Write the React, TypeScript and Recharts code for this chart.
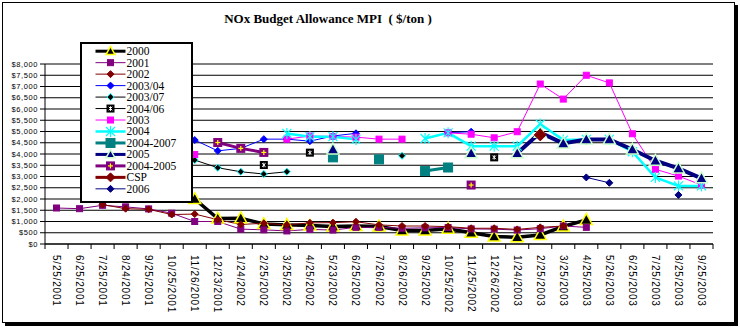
import React from 'react';
import { LineChart, Line, XAxis, YAxis, CartesianGrid } from 'recharts';

const _ = null;

const categories = [
  '5/25/2001', '6/25/2001', '7/25/2001', '8/24/2001', '9/25/2001', '10/25/2001', '11/26/2001',
  '12/23/2001', '1/24/2002', '2/25/2002', '3/25/2002', '4/25/2002', '5/23/2002', '6/25/2002',
  '7/26/2002', '8/26/2002', '9/25/2002', '10/25/2002', '11/25/2002', '12/26/2002', '1/24/2003',
  '2/25/2003', '3/25/2003', '4/25/2003', '5/26/2003', '6/25/2003', '7/25/2003', '8/25/2003', '9/25/2003',
];

const yTicks = [0, 500, 1000, 1500, 2000, 2500, 3000, 3500, 4000, 4500, 5000, 5500, 6000, 6500, 7000, 7500, 8000];

// one value per category, null = no trade that month
const s2000 = [_, _, _, _, _, _, 2000, 1130, 1140, 890, 850, 820, 780, 800, 780, 600, 600, 680, 500, 330, 300, 400, 780, 1070, _, _, _, _, _];
const s2001 = [1600, 1570, 1720, 1650, 1560, 1370, 1000, 1000, 660, 630, 580, 650, 620, 740, 740, 700, 720, 730, 670, 660, 620, 680, 800, 740, _, _, _, _, _];
const s2002 = [_, _, 1750, 1570, 1540, 1310, 1330, 1080, 870, 920, 850, 940, 950, 990, 850, 800, 800, 770, 700, 700, 650, 740, 800, _, _, _, _, _, _];
const s200304 = [_, _, _, _, _, _, 4620, 4140, 4250, 4660, 4660, 4570, 4800, 4920, _, _, _, 4950, 4990, _, _, _, _, _, _, _, _, _, _];
const s200307 = [_, _, _, _, _, _, 3730, 3390, 3210, 3110, 3210, _, _, _, _, 3920, _, _, _, _, _, _, _, _, _, _, _, _, _];
const s200406 = [_, _, _, _, _, _, _, _, _, 3510, _, 4060, _, _, _, _, _, _, _, 3850, _, _, _, _, _, _, _, _, _];
const s2003 = [_, _, _, _, _, _, 3980, _, _, _, 4660, 4800, 4780, 4750, 4660, 4660, _, 4940, 4880, 4720, 4990, 7110, 6440, 7500, 7160, 4900, 3320, 3020, 2620];
const s2004 = [_, _, _, _, _, _, _, _, _, _, 4915, 4770, 4770, 4650, _, _, 4690, 4940, 4350, 4350, 4350, 5330, 4620, 4650, 4650, 4100, 2960, 2580, 2580];
const s20042007 = [_, _, _, _, _, _, _, _, _, _, _, _, 3850, _, 3760, _, 3240, 3400, _, _, _, _, _, _, _, _, _, _, _];
const s2005 = [_, _, _, _, _, _, _, _, _, _, _, _, 4200, _, _, _, _, _, 4030, _, 4030, 4950, 4470, 4650, 4650, 4200, 3700, 3360, 2920];
const s20042005 = [_, _, _, _, _, _, _, 4510, 4250, 4070, _, _, _, _, _, _, _, _, 2620, _, _, _, _, _, _, _, _, _, _];
const sCSP = [_, _, _, _, _, _, _, _, _, _, _, _, _, _, _, _, _, _, _, _, _, 4850, _, _, _, _, _, _, _];
const s2006 = [_, _, _, _, _, _, _, _, _, _, _, _, _, _, _, _, _, _, _, _, _, _, _, 2960, 2720, _, _, 2180, _];

const series = [
  { key: 's2000', name: '2000', values: s2000, color: '#000000', width: 3.5, legendWidth: 3, kind: 'triangle', size: 12, fill: '#000000', edge: '#FFFF00' },
  { key: 's2001', name: '2001', values: s2001, color: '#800080', width: 1, legendWidth: 1, kind: 'square', size: 6, fill: '#800080', edge: '#800080' },
  { key: 's2002', name: '2002', values: s2002, color: '#800000', width: 1, legendWidth: 1, kind: 'diamond', size: 7, fill: '#800000', edge: '#800000' },
  { key: 's200304', name: '2003/04', values: s200304, color: '#0000FF', width: 1, legendWidth: 1, kind: 'diamond', size: 7, fill: '#0000FF', edge: '#0000FF' },
  { key: 's200307', name: '2003/07', values: s200307, color: '#000000', width: 1, legendWidth: 1, kind: 'diamond', size: 7, fill: '#000000', edge: '#00FFFF' },
  { key: 's200406', name: '2004/06', values: s200406, color: '#000000', width: 1, legendWidth: 1, kind: 'boxStar', size: 8, fill: '#000000', edge: '#FFFFFF' },
  { key: 's2003', name: '2003', values: s2003, color: '#FF00FF', width: 1, legendWidth: 1, kind: 'square', size: 6, fill: '#FF00FF', edge: '#FF00FF' },
  { key: 's2004', name: '2004', values: s2004, color: '#00FFFF', width: 2.5, legendWidth: 2.5, kind: 'asterisk', size: 9, fill: '#00FFFF', edge: '#00FFFF' },
  { key: 's20042007', name: '2004-2007', values: s20042007, color: '#008080', width: 3, legendWidth: 3, kind: 'square', size: 9, fill: '#008080', edge: '#008080' },
  { key: 's2005', name: '2005', values: s2005, color: '#000080', width: 4, legendWidth: 3, kind: 'triangle', size: 12, fill: '#000080', edge: '#CCFFCC' },
  { key: 's20042005', name: '2004-2005', values: s20042005, color: '#800080', width: 3, legendWidth: 3, kind: 'plusSquare', size: 9, fill: '#800080', edge: '#FFFF00' },
  { key: 'sCSP', name: 'CSP', values: sCSP, color: '#800000', width: 3, legendWidth: 3, kind: 'diamond', size: 12, fill: '#800000', edge: '#800000' },
  { key: 's2006', name: '2006', values: s2006, color: '#000080', width: 1, legendWidth: 1, kind: 'diamond', size: 7, fill: '#000080', edge: '#000080' },
];

const data = categories.map((date, i) => {
  const row: any = { date };
  series.forEach((s) => { row[s.key] = s.values[i]; });
  return row;
});

const W = 740;
const H = 331;
const PLOT_LEFT = 45;
const PLOT_RIGHT = 713;
const PLOT_TOP = 64;
const PLOT_BOTTOM = 244;
const YAXIS_W = 40;
const XAXIS_H = 60;
const STEP = (PLOT_RIGHT - PLOT_LEFT) / categories.length;

function Marker({ cx, cy, kind, size, fill, edge }: any) {
  const h = size / 2;
  if (kind === 'triangle') {
    return <polygon points={`${cx},${cy - h * 1.05} ${cx - h},${cy + h * 0.75} ${cx + h},${cy + h * 0.75}`} fill={fill} stroke={edge} strokeWidth={1.5} />;
  }
  if (kind === 'square') {
    return <rect x={cx - h} y={cy - h} width={size} height={size} fill={fill} stroke={edge} />;
  }
  if (kind === 'diamond') {
    return <polygon points={`${cx},${cy - h} ${cx + h},${cy} ${cx},${cy + h} ${cx - h},${cy}`} fill={fill} stroke={edge} strokeWidth={1} />;
  }
  if (kind === 'asterisk') {
    return (
      <g stroke={fill} strokeWidth={1.2}>
        <line x1={cx - h} y1={cy - h} x2={cx + h} y2={cy + h} />
        <line x1={cx - h} y1={cy + h} x2={cx + h} y2={cy - h} />
        <line x1={cx} y1={cy - h - 1} x2={cx} y2={cy + h + 1} />
      </g>
    );
  }
  if (kind === 'boxStar') {
    const s = h * 0.45;
    return (
      <g>
        <rect x={cx - h} y={cy - h} width={size} height={size} fill={fill} />
        <g stroke={edge} strokeWidth={1}>
          <line x1={cx - s} y1={cy - s} x2={cx + s} y2={cy + s} />
          <line x1={cx - s} y1={cy + s} x2={cx + s} y2={cy - s} />
          <line x1={cx} y1={cy - s - 0.5} x2={cx} y2={cy + s + 0.5} />
        </g>
      </g>
    );
  }
  if (kind === 'plusSquare') {
    const s = h * 0.55;
    return (
      <g>
        <rect x={cx - h} y={cy - h} width={size} height={size} fill={fill} />
        <g stroke={edge} strokeWidth={1.2}>
          <line x1={cx - s} y1={cy} x2={cx + s} y2={cy} />
          <line x1={cx} y1={cy - s} x2={cx} y2={cy + s} />
        </g>
      </g>
    );
  }
  return null;
}

const makeDot = (s: any) => (props: any) => {
  const { cx, cy, index, value } = props;
  if (cx == null || cy == null || value == null) return <g key={`${s.key}-${index}`} />;
  return (
    <g key={`${s.key}-${index}`}>
      <Marker cx={cx} cy={cy} kind={s.kind} size={s.size} fill={s.fill} edge={s.edge} />
    </g>
  );
};

const fmtMoney = (v: number) => {
  if (v < 1000) return `$${v}`;
  const th = Math.floor(v / 1000);
  const rest = String(v % 1000).padStart(3, '0');
  return `$${th},${rest}`;
};

function DateTick(props: any) {
  const { x, y, payload, index } = props;
  const left = x - STEP / 2;
  return (
    <g>
      <line x1={left} y1={PLOT_BOTTOM} x2={left} y2={PLOT_BOTTOM + 5} stroke="#000" />
      {index === categories.length - 1 && (
        <line x1={x + STEP / 2} y1={PLOT_BOTTOM} x2={x + STEP / 2} y2={PLOT_BOTTOM + 5} stroke="#000" />
      )}
      <text
        x={0}
        y={0}
        dy="0.35em"
        textAnchor="start"
        transform={`translate(${x},${y + 11}) rotate(90)`}
        fontSize={10}
        letterSpacing={0.8}
        fontFamily="'Liberation Sans', Arial, sans-serif"
        fill="#000"
      >
        {payload.value}
      </text>
    </g>
  );
}

function LegendBox() {
  const rowH = 11.47;
  return (
    <div
      style={{
        position: 'absolute', left: 80, top: 42, width: 113, height: 161,
        boxSizing: 'border-box', border: '2.5px solid #000', background: '#fff',
      }}
    >
      <svg width={108} height={156} style={{ display: 'block' }}>
        {series.map((s, i) => {
          const y = 7.2 + rowH * i;
          return (
            <g key={s.key}>
              <line x1={13.5} y1={y} x2={43.5} y2={y} stroke={s.color} strokeWidth={s.legendWidth} />
              <Marker cx={28.5} cy={y} kind={s.kind} size={Math.min(s.size, 9)} fill={s.fill} edge={s.edge} />
              <text x={44.5} y={y + 4} fontSize={11.5} fontFamily="'Liberation Serif', 'Times New Roman', serif" fill="#000">
                {s.name}
              </text>
            </g>
          );
        })}
      </svg>
    </div>
  );
}

export default function App() {
  return (
    <div style={{ position: 'relative', width: W, height: H, background: '#fff' }}>
      <style>{'body{margin:0}'}</style>
      <div
        style={{
          position: 'absolute', left: 2, top: 2, width: 731, height: 319,
          border: '1px solid #000', boxShadow: '3px 3px 0 #000', background: '#fff',
        }}
      />
      <div style={{ position: 'absolute', left: 0, top: 0 }}>
        <LineChart
          width={W}
          height={H}
          data={data}
          margin={{ top: PLOT_TOP, right: W - PLOT_RIGHT, bottom: H - PLOT_BOTTOM - XAXIS_H, left: PLOT_LEFT - YAXIS_W }}
        >
          <CartesianGrid yAxisId="left" horizontal vertical={false} stroke="#000" strokeWidth={1} />
          <XAxis
            dataKey="date"
            yAxisId="left"
            interval={0}
            height={XAXIS_H}
            padding={{ left: STEP / 2, right: STEP / 2 }}
            axisLine={{ stroke: '#000' }}
            tickLine={false}
            tickSize={0}
            tickMargin={0}
            tick={<DateTick />}
          />
          <YAxis
            yAxisId="left"
            domain={[0, 8000]}
            ticks={yTicks}
            interval={0}
            width={YAXIS_W}
            axisLine={{ stroke: '#000' }}
            tickLine={{ stroke: '#000' }}
            tickSize={5}
            tickMargin={2}
            tickFormatter={fmtMoney}
            tick={{ fontSize: 7.5, letterSpacing: 0.6, fill: '#000', fontFamily: "'Liberation Sans', Arial, sans-serif" }}
          />
          <YAxis yAxisId="right" orientation="right" width={0} tick={false} tickLine={false} axisLine={{ stroke: '#000' }} />
          {series.map((s) => (
            <Line
              key={s.key}
              yAxisId="left"
              dataKey={s.key}
              name={s.name}
              type="linear"
              stroke={s.color}
              strokeWidth={s.width}
              dot={makeDot(s)}
              activeDot={false}
              isAnimationActive={false}
            />
          ))}
        </LineChart>
      </div>
      <LegendBox />
      <div
        style={{
          position: 'absolute', left: 128, top: 11, width: 400, textAlign: 'center', whiteSpace: 'pre',
          fontFamily: "'Liberation Serif', 'Times New Roman', serif", fontWeight: 'bold', fontSize: 13, color: '#000',
        }}
      >
        {'NOx Budget Allowance MPI  ( $/ton )'}
      </div>
    </div>
  );
}
